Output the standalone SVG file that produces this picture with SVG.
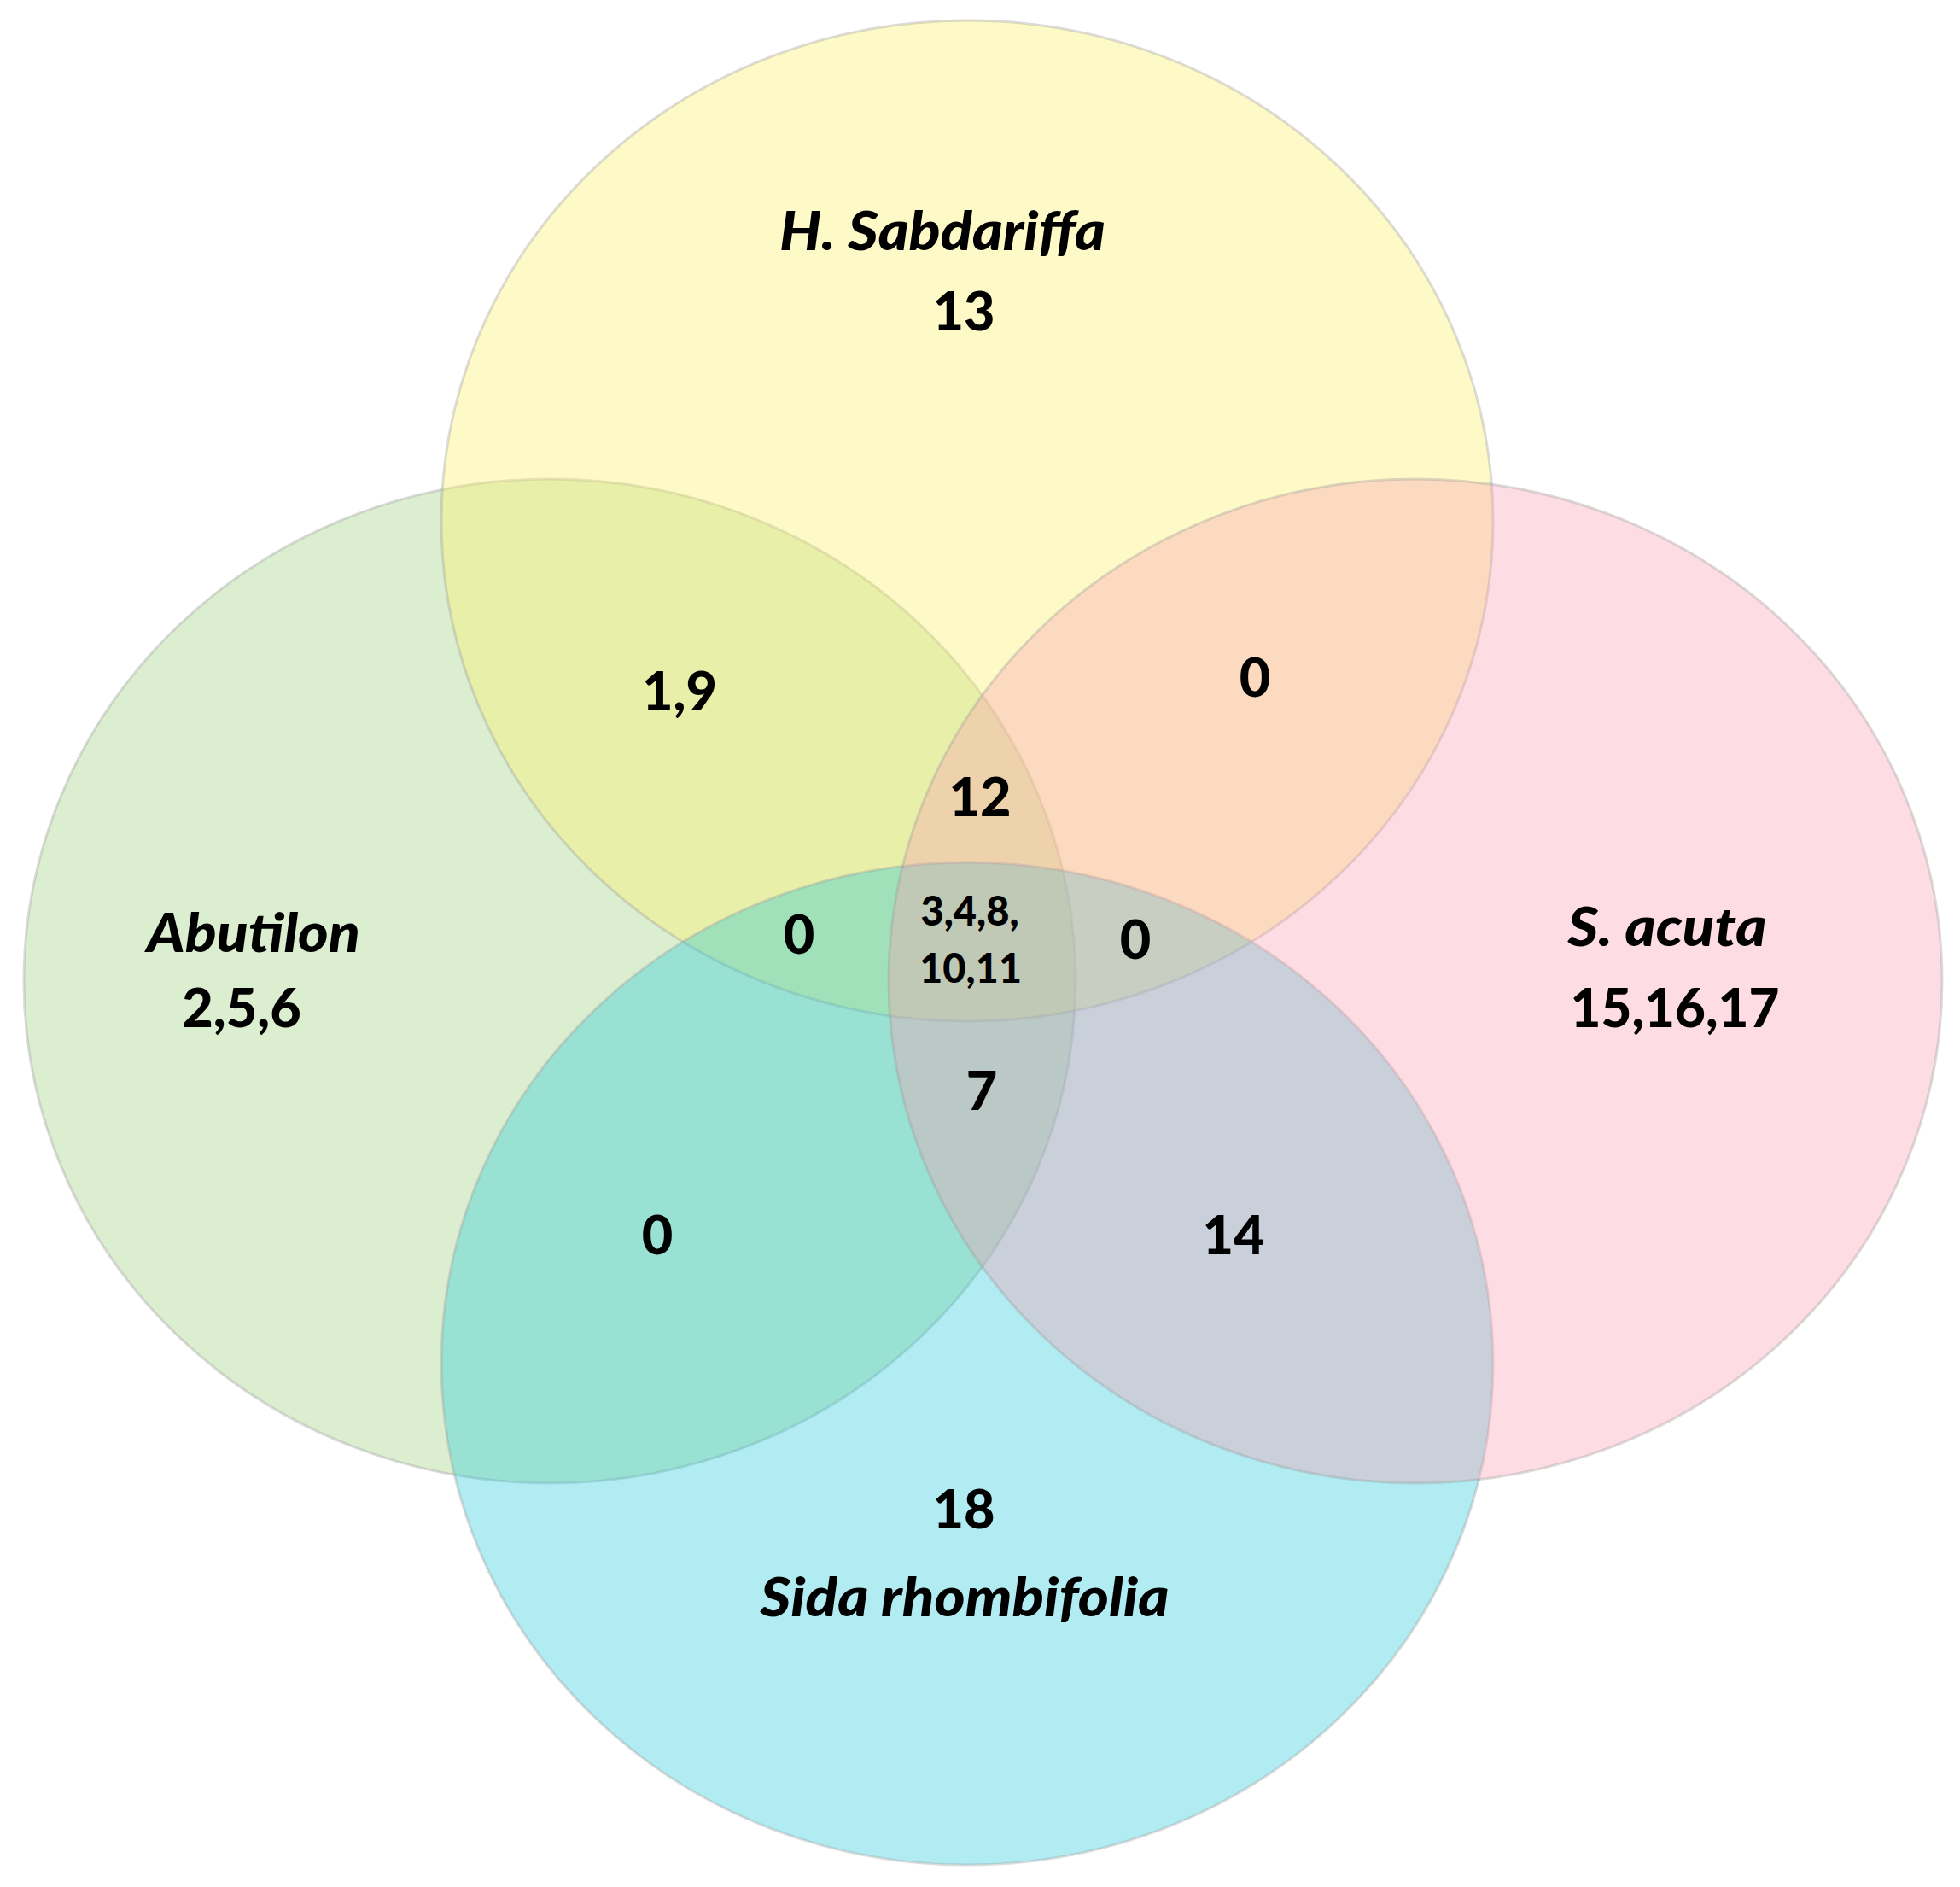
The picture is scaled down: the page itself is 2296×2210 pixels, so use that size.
<svg xmlns="http://www.w3.org/2000/svg" width="2296" height="2210" viewBox="0 0 2296 2210">
<style>
.set{stroke:#9a9a9a;stroke-opacity:0.35;stroke-width:3;fill-opacity:0.35}
text{font-family:Lato,"Open Sans","Liberation Sans",sans-serif;font-weight:900;fill:#000;text-anchor:middle}
.num{font-size:63px}
.sm{font-size:47px}
.name{font-size:62px;font-style:italic}
</style>
<rect width="2296" height="2210" fill="#ffffff"/>
<g id="set-abutilon"><ellipse class="set" cx="644" cy="1149" rx="616" ry="588" fill="#9BCE79"/></g>
<g id="set-h-sabdariffa"><ellipse class="set" cx="1133" cy="610" rx="616" ry="586" fill="#FCF162"/></g>
<g id="set-sida-rhombifolia"><ellipse class="set" cx="1133" cy="1597" rx="616" ry="587" fill="#1DC9DA"/></g>
<g id="set-s-acuta"><ellipse class="set" cx="1658" cy="1149" rx="617" ry="588" fill="#F99EAF"/></g>
<g id="labels">
<text class="name" x="1104" y="293" textLength="382" lengthAdjust="spacingAndGlyphs">H. Sabdariffa</text>
<text class="num" x="1129" y="387">13</text>
<text class="num" x="796" y="832">1,9</text>
<text class="num" x="1470" y="816">0</text>
<text class="num" x="1148" y="956">12</text>
<text class="name" x="297" y="1115" textLength="250" lengthAdjust="spacingAndGlyphs">Abutilon</text>
<text class="num" x="283" y="1203">2,5,6</text>
<text class="name" x="1953" y="1108" textLength="233" lengthAdjust="spacingAndGlyphs">S. acuta</text>
<text class="num" x="1962" y="1203" textLength="245" lengthAdjust="spacingAndGlyphs">15,16,17</text>
<text class="num" x="936" y="1117">0</text>
<text class="num" x="1330" y="1123">0</text>
<text class="sm" x="1136" y="1084">3,4,8,</text>
<text class="sm" x="1137" y="1151">10,11</text>
<text class="num" x="1150" y="1300">7</text>
<text class="num" x="770" y="1469">0</text>
<text class="num" x="1445" y="1469">14</text>
<text class="num" x="1129" y="1790">18</text>
<text class="name" x="1130" y="1893" textLength="479" lengthAdjust="spacingAndGlyphs">Sida rhombifolia</text>
</g>
</svg>
